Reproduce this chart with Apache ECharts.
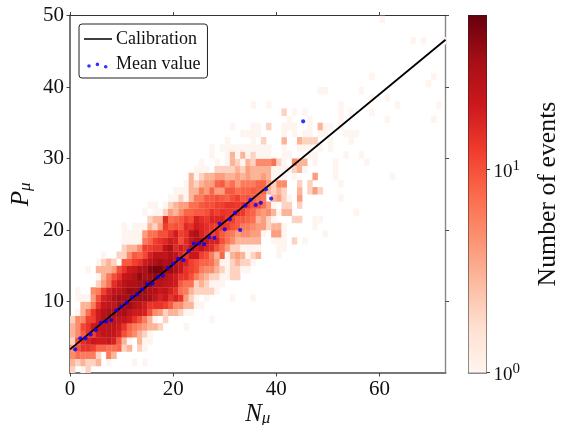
<!DOCTYPE html>
<html><head><meta charset="utf-8">
<style>html,body{margin:0;padding:0;background:#fff}#c{width:564px;height:425px}</style>
<script src="https://cdn.jsdelivr.net/npm/echarts@6/dist/echarts.min.js"></script>
</head><body><div id="c"></div>
<script>
// Each row: [first column, counts...]; array index = P bin, column = N bin
const bandRows = [
[0,2,0,1,2],
[0,3,2,3,2,2,3,0,1,0,0,0,0,1,0,1],
[0,5,7,6,6,6,2,0,6,3],
[0,5,10,14,14,12,8,8,7,7,8,2,3,0,2,1],
[0,2,10,15,18,22,20,20,22,18,9,3,1,0,3,1,1],
[0,3,5,9,14,12,20,25,25,23,18,10,7,5,3,2,1],
[0,3,5,11,14,22,24,24,25,24,20,14,8,6,5,4,3,3,2,0,0,0,0,1],
[0,2,5,5,12,12,20,28,25,25,24,24,20,14,10,6,3,1,0,2,0,0,0,0,0,0,0,0,1],
[0,0,1,3,7,13,20,28,32,30,32,34,24,20,20,18,10,5,4,2,3,3,2,1,1],
[2,3,3,6,14,22,25,25,34,32,36,28,25,20,14,14,14,12,9,5,5,3,3,1,1],
[1,1,1,1,4,10,18,22,30,36,34,32,36,36,36,34,24,18,22,14,18,14,4,2,1,0,1,0,0,0,0,1,0,0,0,1],
[1,1,0,0,5,6,12,18,24,25,30,38,36,40,36,30,30,22,25,18,14,7,6,3,2,2,2,2,1],
[5,2,4,7,15,20,26,30,30,34,38,42,26,28,24,22,20,9,7,7,2,3,2,1,1,1],
[5,1,3,6,10,14,22,24,28,40,32,36,40,32,28,24,20,14,14,10,6,4,3,2,2,1,1,2,2],
[3,1,0,3,3,3,4,10,14,20,22,30,30,44,50,50,36,38,30,22,14,12,10,6,5,5,3,2,1,2,2,1,1],
[5,1,2,3,2,0,9,9,12,14,20,25,30,35,30,34,25,22,18,12,10,8,8,7,4,1,1,2,3,2,2,1],
[6,1,0,0,2,2,5,9,8,11,18,24,24,24,30,26,17,14,22,22,12,10,6,3,8,1,3,4,3,1,2,3],
[10,2,3,3,5,12,12,14,14,25,32,16,20,16,28,20,24,18,16,10,7,4,2,2,1,1,1,1,0,0,0,1,1],
[10,1,1,1,1,6,8,12,14,16,20,18,10,16,22,30,30,24,18,18,10,7,5,3,3,3,3,3,0,0,1,1,1,0,2,0,1],
[10,1,1,1,1,4,7,7,10,10,14,20,12,14,25,30,18,14,12,14,9,7,6,4,5,5,4,4,1,0,4,4,1],
[10,1,0,1,1,1,3,2,4,12,9,10,9,16,14,20,17,15,13,12,14,13,10,9,6,6,5,4,4,2,3,3,1],
[15,2,3,3,15,7,8,9,12,10,18,15,13,17,17,17,12,12,9,9,8,7,3,4,2,1,0,0,0,2,2],
[14,1,0,1,1,2,4,3,5,8,8,9,9,10,14,12,14,13,13,15,13,9,8,5,4,5,3,1,3,3],
[15,1,1,0,1,2,3,4,4,7,7,9,10,10,12,12,14,14,13,15,14,10,10,7,4,1,0,2,2,0,2],
[19,1,1,2,1,3,6,6,9,9,10,9,8,10,12,9,10,9,7,6,0,3,4,2,1,0,4],
[20,1,1,1,3,3,6,4,8,4,4,9,9,7,8,8,9,8,8,3,2,3,2,0,0,3,0,2,4,2],
[22,1,3,2,3,4,4,8,9,5,7,4,6,6,6,8,8,4,2,5,5,0,0,2,0,2],
[23,3,1,2,3,3,4,4,3,3,4,3,4,3,3,4,3,1,1,1,0,1,0,0,0,4],
[24,1,1,1,0,2,2,2,2,3,2,4,3,3,3,3,1,1,1,1,2,3,1],
[25,1,0,0,1,0,1,3,2,1,3,2,5,5,5,7,2,1,0,5,3,3],
[27,1,0,0,1,3,1,3,1,2,1,1,1,0,0,1,1],
[27,1,0,1,1,1,1,1,1,1,1,1,1,0,0,1,0,0,1,1,1,0,1]
];
// Isolated cells: [N bin, P bin, count]
const isolatedCells = [
[40,16,1],[49,19,1],[47,20,1],[47,21,1],[48,21,1],[55,22,1],[52,24,1],[52,26,1],[51,27,1],[62,27,1],
[51,28,1],[47,29,1],[51,29,1],[57,29,1],[46,30,1],[47,30,1],[53,30,1],[56,30,1],[50,31,1],
[30,32,1],[35,32,1],[37,32,2],[41,32,3],[44,32,3],[45,32,2],[46,32,2],[47,32,2],[50,32,1],[54,32,1],
[33,33,1],[34,33,1],[35,33,1],[36,33,1],[41,33,1],[43,33,1],[45,33,1],[46,33,1],[48,33,1],[49,33,1],[53,33,1],[54,33,1],[55,33,1],
[31,34,1],[35,34,1],[36,34,1],[38,34,2],[41,34,1],[42,34,1],[43,34,1],[46,34,1],[48,34,3],[49,34,1],[50,34,1],[52,34,1],
[42,35,1],[46,35,1],[52,35,1],[61,35,1],[70,35,1],
[41,36,2],[43,36,1],[45,36,1],[52,36,1],[54,36,1],[58,36,1],
[35,37,1],[38,37,1],[52,37,1],[63,37,1],[71,37,1],
[58,38,1],[61,38,1],[48,39,1],[49,39,1],[56,39,1],[69,40,1],[58,41,1],[70,41,1],
[66,46,1],[68,46,1],[72,46,1],[60,49,1]
];
const meanX = [1,2,3,4,5,6,7,8,9,10,11,12,13,14,15,16,17,18,19,20,21,22,23,24,25,26,27,28,29,30,31,32,33,34,35,36,37,38,39,45.2];
const meanY = [3.3,4.85,4.85,5.4,6,7,7.2,7.4,8.76,9.3,9.85,10.6,11,11.7,12.45,12.5,13.4,13.6,14.7,15.3,15.95,15.8,17.1,18.1,18.1,18,19,18.9,20.9,20.1,21.5,22.4,20,23.4,24.2,23.5,23.8,25.7,24.4,35.2];
const calibrationX = [0,72.8];
const calibrationY = [3.3,46.6];
const xTicks = [0,20,40,60];
const yTicks = [10,20,30,40,50];
const cbarMajor = [1,10];
const cbarMinor = [2,3,4,5,6,7,8,9,20,30,40,50];
const cbarMax = 57;
const reds = ['#fff5f0','#fee0d2','#fcbba1','#fc9272','#fb6a4a','#ef3b2c','#cb181d','#a50f15','#67000d'];

const cells = [];
bandRows.forEach((row, y) => row.slice(1).forEach((n, i) => { if (n > 0) cells.push([row[0] + i, y, Math.log10(n)]); }));
isolatedCells.forEach(c => cells.push([c[0], c[1], Math.log10(c[2])]));

const FONT = 'Liberation Serif';
const INK = '#111';
const logMax = Math.log10(cbarMax);
const chart = echarts.init(document.getElementById('c'), null, {renderer:'canvas'});
const dotsIcon = 'path://M0 0h.01v.01H0z M28 20h.01v.01H28z M5 10.2a1.8 1.8 0 1 0 .01 0z M13.4 8.6a1.8 1.8 0 1 0 .01 0z M21.7 10.9a1.8 1.8 0 1 0 .01 0z';
const lineIcon = 'path://M0 0h.01v.01H0z M28 20h.01v.01H28z M0 9.2H28V10.8H0z';
const spine = (color, width) => ({show:true, onZero:false, lineStyle:{color, width}});
const axisBase = {
  type:'value', splitLine:{show:false}, axisLine:spine('#777', 2),
  axisLabel:{fontFamily:FONT, fontSize:21, color:INK}, axisTick:{length:3.5, lineStyle:{color:'#333', width:0.9}}
};
const subscriptRich = {n:{fontFamily:FONT, fontStyle:'italic', fontSize:25, color:INK}, s:{fontFamily:FONT, fontStyle:'italic', fontSize:17, color:INK, padding:[9,0,0,0]}};
chart.setOption({
  animation:false,
  backgroundColor:'#fff',
  grid:[
    {left:70, top:15.5, width:375.5, height:357.5, outerBoundsMode:'none'},
    {left:468.5, top:15.5, width:18, height:357, outerBoundsMode:'none'}
  ],
  xAxis:[
    Object.assign({}, axisBase, {gridIndex:0, min:0, max:72.8, position:'bottom',
      axisLabel:Object.assign({}, axisBase.axisLabel, {customValues:xTicks, margin:6}),
      axisTick:Object.assign({}, axisBase.axisTick, {customValues:xTicks}),
      name:'{n|N}{s|μ}', nameLocation:'middle', nameGap:28, nameMoveOverlap:false,
      nameTextStyle:{rich:subscriptRich}
    }),
    Object.assign({}, axisBase, {gridIndex:0, min:0, max:72.8, position:'top', axisLine:spine('#333', 1), axisLabel:{show:false},
      axisTick:Object.assign({}, axisBase.axisTick, {customValues:xTicks})}),
    {type:'value', gridIndex:1, min:0, max:1, show:true, position:'top', axisLine:spine('#222', 1), axisTick:{show:false}, axisLabel:{show:false}, splitLine:{show:false}},
    {type:'value', gridIndex:1, min:0, max:1, show:true, position:'bottom', axisLine:spine('#666', 1.5), axisTick:{show:false}, axisLabel:{show:false}, splitLine:{show:false}}
  ],
  yAxis:[
    Object.assign({}, axisBase, {gridIndex:0, min:0, max:50, position:'left',
      axisLabel:Object.assign({}, axisBase.axisLabel, {customValues:yTicks, margin:6}),
      axisTick:Object.assign({}, axisBase.axisTick, {customValues:yTicks}),
      name:'{n|P}{s|μ}', nameLocation:'middle', nameGap:36, nameMoveOverlap:false,
      nameTextStyle:{rich:subscriptRich}
    }),
    Object.assign({}, axisBase, {gridIndex:0, min:0, max:50, position:'right', axisLine:spine('#888', 1.4), axisLabel:{show:false},
      axisTick:Object.assign({}, axisBase.axisTick, {customValues:yTicks})}),
    {type:'value', gridIndex:1, min:0, max:logMax, position:'right', splitLine:{show:false},
      axisLine:spine('#222', 1),
      axisTick:{length:3.5, lineStyle:{color:'#222', width:0.9}, customValues:cbarMajor.map(Math.log10)},
      axisLabel:{customValues:cbarMajor.map(Math.log10), margin:7, fontFamily:FONT, fontSize:19, color:INK,
        formatter:v => '{b|10}{e|' + Math.round(v) + '}', rich:{b:{fontFamily:FONT, fontSize:19, color:INK, padding:[6,0,0,0]}, e:{fontFamily:FONT, fontSize:15, color:INK, padding:[0,0,6,0]}}},
      name:'Number of events', nameLocation:'middle', nameGap:49, nameRotate:90, nameMoveOverlap:false,
      nameTextStyle:{fontFamily:FONT, fontSize:25.8, color:INK}},
    {type:'value', gridIndex:1, min:0, max:logMax, position:'left', splitLine:{show:false},
      axisLine:spine('#222', 1), axisTick:{show:false}, axisLabel:{show:false}},
    {type:'value', gridIndex:1, min:0, max:logMax, position:'right', splitLine:{show:false},
      axisLine:{show:false}, axisTick:{length:2, lineStyle:{color:'#444', width:0.7}, customValues:cbarMinor.map(Math.log10)}, axisLabel:{show:false}}
  ],
  visualMap:[{show:false, seriesIndex:0, dimension:2, min:0, max:logMax, inRange:{color:reds}}],
  legend:{
    left:79, top:24, orient:'vertical', padding:[5,7,4,5], itemGap:5, itemWidth:28, itemHeight:20,
    borderColor:'#222', borderWidth:1, borderRadius:3, backgroundColor:'#fff',
    textStyle:{fontFamily:FONT, fontSize:18, color:INK, padding:[0,0,0,-1]},
    data:[
      {name:'Calibration', icon:lineIcon, itemStyle:{color:'#000', borderWidth:0}},
      {name:'Mean value', icon:dotsIcon, itemStyle:{color:'#0000ff', borderWidth:0}}
    ]
  },
  series:[
    {type:'custom', name:'Events', coordinateSystem:'cartesian2d', xAxisIndex:0, yAxisIndex:0, clip:true, silent:true,
      encode:{x:0, y:1}, data:cells,
      renderItem:(p, api) => {
        const a = api.coord([api.value(0), api.value(1)]);
        const b = api.coord([api.value(0) + 1, api.value(1) + 1]);
        return {type:'rect', shape:{x:a[0], y:b[1], width:b[0]-a[0]+0.3, height:a[1]-b[1]+0.3}, style:{fill:api.visual('color')}};
      }},
    {type:'line', name:'Calibration', xAxisIndex:0, yAxisIndex:0, data:calibrationX.map((x,i)=>[x,calibrationY[i]]), showSymbol:false, symbol:'none', lineStyle:{color:'#000', width:1.8}, itemStyle:{color:'#000'}, z:5},
    {type:'scatter', name:'Mean value', xAxisIndex:0, yAxisIndex:0, data:meanX.map((x,i)=>[x,meanY[i]]), symbolSize:4.2, itemStyle:{color:'#0000ff'}, z:6},
    {type:'custom', name:'Colorbar', coordinateSystem:'cartesian2d', xAxisIndex:2, yAxisIndex:2, silent:true, encode:{x:0, y:1}, data:[[0,0],[1,logMax]],
      renderItem:(p, api) => {
        if (p.dataIndex !== 0) return null;
        const a = api.coord([0,0]); const b = api.coord([1,logMax]);
        return {type:'rect', shape:{x:a[0], y:b[1], width:b[0]-a[0], height:a[1]-b[1]},
          style:{fill:new echarts.graphic.LinearGradient(0,1,0,0, reds.map((c,i)=>({offset:i/(reds.length-1), color:c})))}};
      }}
  ]
});
</script></body></html>
